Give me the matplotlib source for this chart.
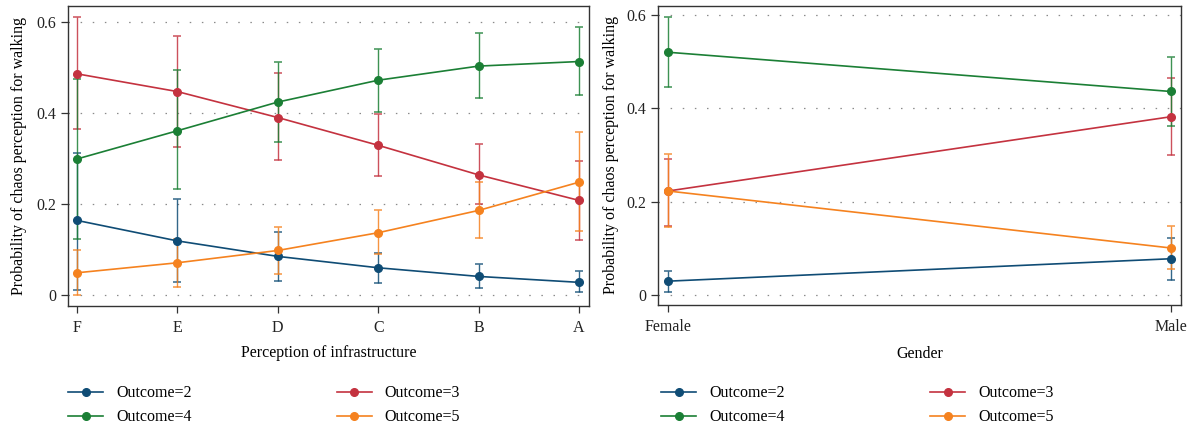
import numpy as np
import matplotlib.pyplot as plt
from matplotlib.lines import Line2D

plt.rcParams['font.family'] = ['Liberation Serif', 'DejaVu Serif']
plt.rcParams['font.size'] = 11.5

# Left panel: perception of infrastructure
infra_labels = ['F', 'E', 'D', 'C', 'B', 'A']
infra_mean = {
    2: [0.164, 0.119, 0.085, 0.060, 0.041, 0.028],
    3: [0.486, 0.447, 0.390, 0.329, 0.264, 0.208],
    4: [0.299, 0.361, 0.424, 0.472, 0.503, 0.513],
    5: [0.049, 0.071, 0.098, 0.137, 0.186, 0.248],
}
infra_lo = {
    2: [0.012, 0.028, 0.030, 0.026, 0.015, 0.006],
    3: [0.365, 0.326, 0.296, 0.262, 0.199, 0.121],
    4: [0.124, 0.232, 0.336, 0.403, 0.432, 0.440],
    5: [0.000, 0.018, 0.047, 0.090, 0.125, 0.141],
}
infra_hi = {
    2: [0.313, 0.211, 0.138, 0.093, 0.069, 0.052],
    3: [0.610, 0.569, 0.487, 0.397, 0.331, 0.294],
    4: [0.474, 0.494, 0.511, 0.541, 0.576, 0.588],
    5: [0.100, 0.124, 0.149, 0.186, 0.249, 0.358],
}

# Right panel: gender
gender_labels = ['Female', 'Male']
gender_mean = {
    2: [0.030, 0.078],
    3: [0.223, 0.382],
    4: [0.520, 0.436],
    5: [0.223, 0.101],
}
gender_lo = {
    2: [0.007, 0.032],
    3: [0.149, 0.300],
    4: [0.445, 0.363],
    5: [0.146, 0.056],
}
gender_hi = {
    2: [0.052, 0.123],
    3: [0.292, 0.464],
    4: [0.596, 0.510],
    5: [0.303, 0.148],
}

outcomes = [2, 3, 4, 5]
colors = {2: '#0f4c75', 3: '#c4323f', 4: '#1b7f35', 5: '#f5821f'}
yticks = [0, 0.2, 0.4, 0.6]
ytick_labels = ['0', '0.2', '0.4', '0.6']


def draw_panel(ax, labels, mean, lo, hi, xlabel, xlim, ylim, ylab_x, xlab_y, leg_x, leg_y):
    x = np.arange(len(labels))
    for y in yticks:
        ax.axhline(y, color='#8a8a8a', lw=0.9, ls=(0, (1.2, 8.5)), zorder=0)
    for k in outcomes:
        m = np.array(mean[k])
        err = [m - np.array(lo[k]), np.array(hi[k]) - m]
        ax.errorbar(x, m, yerr=err, fmt='none', ecolor=colors[k], elinewidth=1.0,
                    capsize=3.2, capthick=1.1, alpha=0.85, zorder=2)
    for k in outcomes:
        ax.plot(x, mean[k], color=colors[k], lw=1.2, marker='o', ms=5.5, zorder=3,
                label='Outcome=%d' % k)
    ax.set_xticks(x)
    ax.set_xticklabels(labels)
    ax.set_yticks(yticks)
    ax.set_yticklabels(ytick_labels)
    ax.set_xlim(*xlim)
    ax.set_ylim(*ylim)
    ax.set_xlabel(xlabel, va='center')
    ax.set_ylabel('Probability of chaos perception for walking', va='center')
    ax.xaxis.set_label_coords(0.5, xlab_y)
    ax.yaxis.set_label_coords(ylab_x, 0.5)
    ax.tick_params(direction='out', length=5.2, width=0.9, color='#333333',
                   labelcolor='#222222')
    ax.tick_params(axis='x', pad=5)
    ax.tick_params(axis='y', pad=3.5)
    for s in ax.spines.values():
        s.set_color('#333333')
        s.set_linewidth(1.0)

    handles = [Line2D([], [], color=colors[k], lw=1.2, marker='o', ms=5.5) for k in outcomes]
    names = ['Outcome=%d' % k for k in outcomes]
    # reorder so that rows read 2,3 / 4,5 in a two-column legend
    order = [0, 2, 1, 3]
    ax.legend([handles[i] for i in order], [names[i] for i in order], ncol=2,
              loc='upper left', bbox_to_anchor=(leg_x, leg_y), frameon=False,
              handlelength=2.2, handletextpad=0.8, columnspacing=9.1,
              labelspacing=0.5, borderaxespad=0)


fig = plt.figure(figsize=(11.91, 4.28), dpi=100)
ax1 = fig.add_axes([0.0571, 0.285, 0.4375, 0.701])
ax2 = fig.add_axes([0.5525, 0.2874, 0.4391, 0.6986])

draw_panel(ax1, infra_labels, infra_mean, infra_lo, infra_hi,
           'Perception of infrastructure', (-0.09, 5.1), (-0.024, 0.635),
           -0.094, -0.157, -0.012, -0.243)
draw_panel(ax2, gender_labels, gender_mean, gender_lo, gender_hi,
           'Gender', (-0.02, 1.02), (-0.021, 0.619),
           -0.09, -0.164, -0.006, -0.247)

fig.savefig('out.png', dpi=100)
